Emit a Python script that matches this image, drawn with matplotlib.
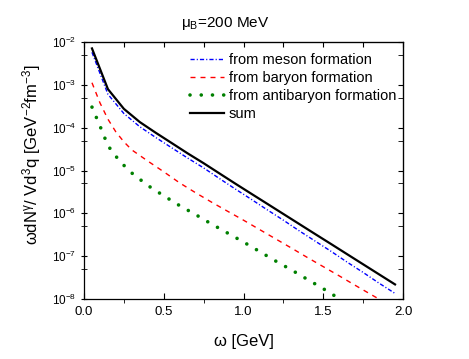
import matplotlib
matplotlib.use("Agg")
import matplotlib.pyplot as plt
from matplotlib.ticker import LogLocator, MultipleLocator, NullFormatter

plt.rcParams['font.family'] = ['Liberation Sans', 'DejaVu Sans']
plt.rcParams['mathtext.default'] = 'regular'

# photon energy grids [GeV]
omega_coarse = [0.05, 0.15, 0.25, 0.35, 0.45, 0.55, 0.65, 0.75, 0.85, 0.95,
                1.05, 1.15, 1.25, 1.35, 1.45, 1.55, 1.65, 1.75, 1.85, 1.95]
omega_fine = [0.05, 0.10, 0.15, 0.20, 0.25, 0.30, 0.40, 0.50, 0.60, 0.70, 0.80,
              0.90, 1.00, 1.10, 1.20, 1.30, 1.40, 1.50, 1.60, 1.70, 1.80, 1.90]

meson = [5.75e-3, 6.03e-4, 2.14e-4, 1.05e-4, 5.89e-5, 3.39e-5, 1.95e-5, 1.15e-5,
         6.46e-6, 3.67e-6, 2.11e-6, 1.20e-6, 6.92e-7, 3.89e-7, 2.24e-7, 1.29e-7,
         7.24e-8, 4.17e-8, 2.34e-8, 1.35e-8]
total = [7.08e-3, 7.94e-4, 2.75e-4, 1.35e-4, 7.59e-5, 4.37e-5, 2.51e-5, 1.48e-5,
         8.51e-6, 4.90e-6, 2.85e-6, 1.66e-6, 9.66e-7, 5.62e-7, 3.27e-7, 1.91e-7,
         1.11e-7, 6.46e-8, 3.76e-8, 2.19e-8]
baryon = [1.12e-3, 3.80e-4, 1.58e-4, 7.94e-5, 4.68e-5, 3.02e-5, 1.66e-5, 9.33e-6,
          5.13e-6, 3.02e-6, 1.82e-6, 1.12e-6, 6.92e-7, 4.20e-7, 2.55e-7, 1.55e-7,
          9.33e-8, 5.69e-8, 3.47e-8, 2.09e-8, 1.27e-8, 7.76e-9]
antibaryon = [3.02e-4, 1.10e-4, 3.80e-5, 2.14e-5, 1.32e-5, 8.71e-6, 4.47e-6, 2.57e-6,
              1.51e-6, 9.33e-7, 5.62e-7, 3.47e-7, 2.14e-7, 1.29e-7, 7.76e-8, 4.79e-8,
              2.88e-8, 1.74e-8, 1.02e-8, 6.17e-9]

fig = plt.figure(figsize=(4.69, 3.59), dpi=100)
ax = fig.add_axes([84/469, 1 - 299/359, 319/469, 257/359])

ax.plot(omega_coarse, meson, color='blue', lw=1.0,
        linestyle=(0, (3, 1.5, 0.8, 1.5)), label='from meson formation')
ax.plot(omega_fine, baryon, color='red', lw=1.0,
        linestyle=(0, (3.6, 3.6)), label='from baryon formation')
ax.plot(omega_fine[:len(antibaryon)], antibaryon, color='green', lw=2.6,
        linestyle=(0, (0.01, 3.1)), dash_capstyle='round', label='from antibaryon formation')
ax.plot(omega_coarse, total, color='black', lw=1.6, label='sum')

ax.set_yscale('log')
ax.set_xlim(0, 2.0)
ax.set_ylim(1e-8, 1e-2)

ax.xaxis.set_major_locator(MultipleLocator(0.5))
ax.xaxis.set_minor_locator(MultipleLocator(0.25))
ax.xaxis.set_major_formatter(plt.FormatStrFormatter('%.1f'))
ax.yaxis.set_major_locator(LogLocator(base=10))
ax.yaxis.set_minor_locator(LogLocator(base=10, subs=[5]))
ax.yaxis.set_minor_formatter(NullFormatter())

ax.tick_params(top=False, right=False)
ax.tick_params(axis='x', which='major', direction='in', length=4, labelsize=9.5, pad=5)
ax.tick_params(axis='x', which='minor', direction='out', length=3)
ax.tick_params(axis='y', which='both', direction='inout', length=5, labelsize=8.5, pad=3)
for s in ax.spines.values():
    s.set_linewidth(0.9)

# top and right ticks point inward
top = ax.secondary_xaxis('top')
top.xaxis.set_major_locator(MultipleLocator(0.25))
top.tick_params(direction='in', length=3.5, labeltop=False)
right = ax.secondary_yaxis('right')
right.yaxis.set_major_locator(LogLocator(base=10))
right.yaxis.set_minor_locator(LogLocator(base=10, subs=[5]))
right.tick_params(which='both', direction='in', length=3.5, labelright=False)

ax.set_xlabel('ω [GeV]', fontsize=12)
ax.xaxis.set_label_coords(0.5, -0.135)
ax.set_ylabel('ωdN$^{γ}$/ Vd$^{3}$q [GeV$^{-2}$fm$^{-3}$]', fontsize=12)
ax.yaxis.set_label_coords(-0.13, 0.56)

fig.text(225/469, 1 - 24/359, 'μ$_{B}$=200 MeV', fontsize=11, ha='center', va='center')

ax.legend(loc='upper left', bbox_to_anchor=(190/469, 1 - 53/359),
          bbox_transform=fig.transFigure, frameon=False, fontsize=10.5,
          handlelength=2.3, handletextpad=0.35, labelspacing=0.28,
          borderpad=0, borderaxespad=0)

fig.savefig('out.png', dpi=100)
